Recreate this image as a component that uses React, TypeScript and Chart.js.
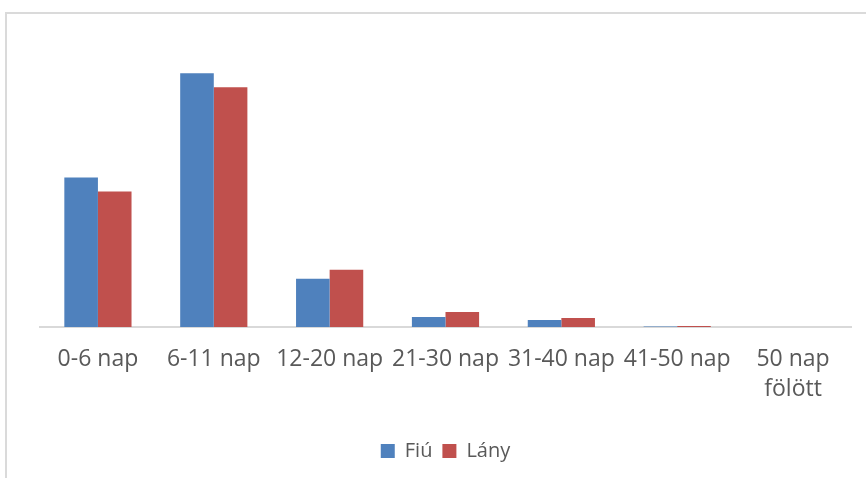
import React, { useEffect, useRef } from "react";
import { Chart, registerables } from "chart.js";

Chart.register(...registerables);

// Hospital stay length groups and counts per sex
const categories: (string | string[])[] = [
  "0-6 nap",
  "6-11 nap",
  "12-20 nap",
  "21-30 nap",
  "31-40 nap",
  "41-50 nap",
  ["50 nap", "fölött"],
];
const fiuValues = [149, 253, 48, 10, 7, 0.6, 0];
const lanyValues = [135, 239, 57, 15, 9, 1, 0];
const seriesNames = ["Fiú", "Lány"];
const seriesColors = ["#4F81BD", "#C0504D"];

export default function App() {
  const canvasRef = useRef<HTMLCanvasElement | null>(null);

  useEffect(() => {
    if (!canvasRef.current) return;
    const chart = new Chart(canvasRef.current, {
      type: "bar",
      data: {
        labels: categories,
        datasets: [
          {
            label: seriesNames[0],
            data: fiuValues,
            backgroundColor: seriesColors[0],
            categoryPercentage: 0.58,
            barPercentage: 1,
          },
          {
            label: seriesNames[1],
            data: lanyValues,
            backgroundColor: seriesColors[1],
            categoryPercentage: 0.58,
            barPercentage: 1,
          },
        ],
      },
      options: {
        responsive: false,
        animation: false,
        layout: { padding: { left: 40, right: 15, top: 26, bottom: 7 } },
        scales: {
          x: {
            grid: { display: false },
            border: { display: true, color: "#d9d9d9", width: 2 },
            ticks: {
              color: "#595959",
              padding: 10,
              maxRotation: 0,
              autoSkip: false,
              font: { family: "'Open Sans', sans-serif", size: 23, lineHeight: 1.3 },
            },
            afterFit: (scale: any) => {
              scale.height = 104;
            },
          },
          y: {
            display: false,
            min: 0,
            max: 300,
          },
        },
        plugins: {
          legend: {
            position: "bottom",
            labels: {
              color: "#595959",
              boxWidth: 14,
              boxHeight: 14,
              padding: 10,
              font: { family: "'Open Sans', sans-serif", size: 20 },
            },
          },
          tooltip: { enabled: false },
        },
      },
    });
    return () => chart.destroy();
  }, []);

  return (
    <div
      style={{
        position: "absolute",
        left: 0,
        top: 0,
        width: 866,
        height: 478,
        overflow: "hidden",
        background: "#ffffff",
      }}
    >
      <div
        style={{
          position: "absolute",
          left: 5,
          top: 12,
          width: 900,
          height: 500,
          borderLeft: "2px solid #dadada",
          borderTop: "2px solid #dadada",
        }}
      />
      <canvas
        ref={canvasRef}
        width={866}
        height={478}
        style={{ position: "absolute", left: 0, top: 0, width: 866, height: 478 }}
      />
    </div>
  );
}
